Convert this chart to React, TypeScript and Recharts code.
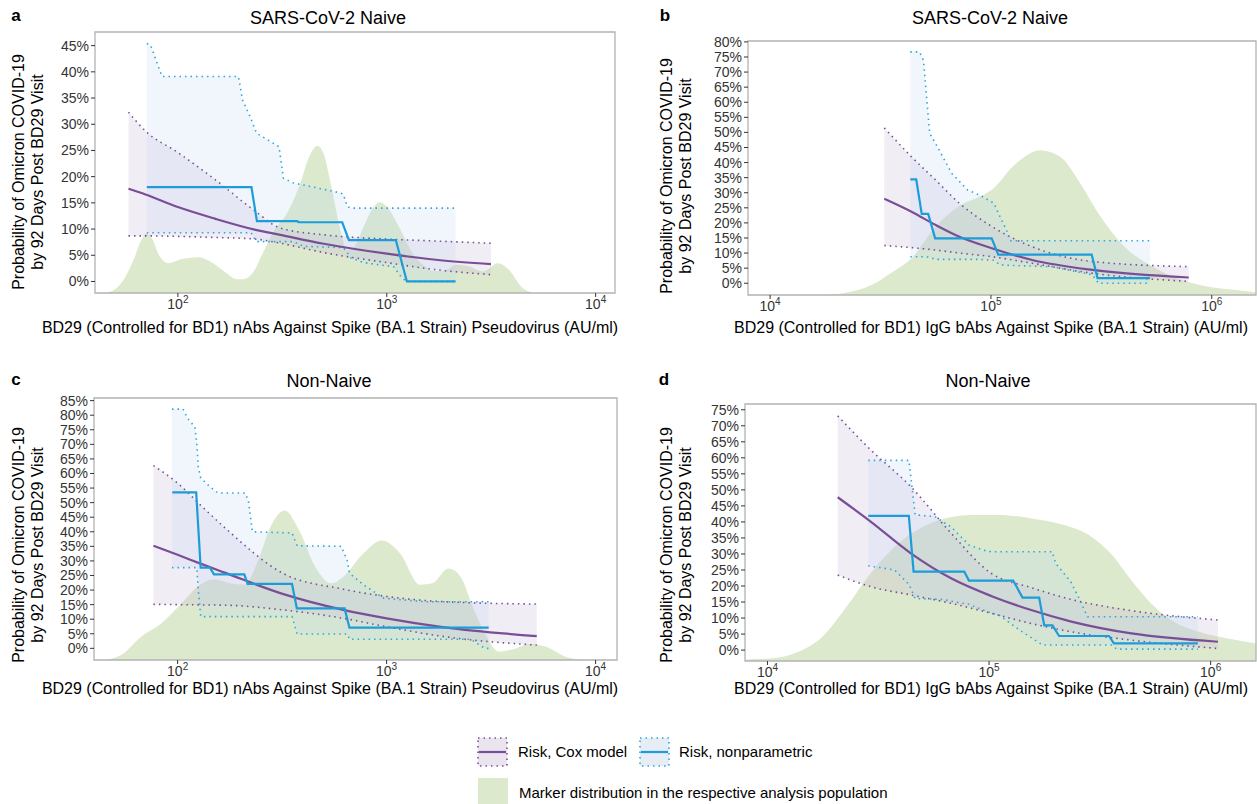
import React from "react";
import { ComposedChart, Area, Line, XAxis, YAxis, ReferenceArea } from "recharts";

// [marker value (AU/ml), height on the risk axis (%)]
type Pt = [number, number];
// [marker value, lower %, upper %]
type Band = [number, number, number];
// [marker value, estimate %, lower %, upper %]
type Cox = [number, number, number, number];

const FONT = '"Liberation Sans", Arial, Helvetica, sans-serif';
const GREEN = "#dde9cd";
const PURPLE = "#7a4e96";
const PURPLE_FILL = "#c9b8d9";
const BLUE = "#1c9cd8";
const BLUE_DOT = "#2aa7df";
const BLUE_FILL = "#b9d6f0";
const BORDER = "#b3b3b3";
const TICK = "#333333";

const xTitleNAb = "BD29 (Controlled for BD1) nAbs Against Spike (BA.1 Strain) Pseudovirus (AU/ml)";
const xTitleBAb = "BD29 (Controlled for BD1) IgG bAbs Against Spike (BA.1 Strain) (AU/ml)";
const yTitle = ["Probability of Omicron COVID-19", "by 92 Days Post BD29 Visit"];

const nAbTicks = [100, 1000, 10000];
const bAbTicks = [10000, 100000, 1000000];
const pct45 = [0, 5, 10, 15, 20, 25, 30, 35, 40, 45];
const pct80 = [0, 5, 10, 15, 20, 25, 30, 35, 40, 45, 50, 55, 60, 65, 70, 75, 80];
const pct85 = [...pct80, 85];
const pct75 = pct80.slice(0, 16);

// ---- panel a: naive, nAbs ----
const aDensity: Pt[] = [
  [45.9, -2.2], [53.6, -0.3], [61.3, 4.1], [66.9, 7.9], [70.7, 9.2], [74.9, 8.3], [81.8, 4.8],
  [89.5, 3.5], [104.5, 4.3], [124.9, 4.6], [142.8, 3.8], [170.6, 1.6], [190.8, 0.4], [204, 0.4],
  [228, 1.6], [254.8, 5.4], [291.2, 9.9], [333, 13], [380.5, 18.1], [425.3, 23.8], [464.9, 25.9],
  [497, 24.5], [543.3, 18.1], [593.8, 10.5], [649.2, 6], [694, 6.5], [775.8, 10.5], [848, 13.7],
  [927, 15.1], [1013, 14], [1158, 10], [1324, 5.5], [1513, 3], [1691, 2], [1891, 2.1], [2161, 3.2],
  [2470, 2.9], [2886, 1.9], [3403, 3.5], [3855, 2.2], [4407, -1], [5037, -2.2],
];
const aCox: Cox[] = [
  [58, 17.7, 8.7, 32.3], [70, 16.6, 8.7, 28.7], [100, 14.2, 8.6, 24.6], [150, 12.0, 8.4, 19.5],
  [233, 9.9, 8.1, 13.5], [309, 8.9, 7.3, 10.2], [500, 7.2, 5.5, 8.9], [1000, 5.3, 3.6, 8.1],
  [1760, 4.1, 2.2, 7.7], [3155, 3.3, 1.3, 7.3],
];
const aNpBand: Band[] = [
  [71, 9.3, 45.4], [74, 9.3, 45.1], [84, 9.3, 39.1], [195, 9.3, 39.1], [204, 9.3, 34.6],
  [218, 9.3, 32.1], [224, 9.3, 31], [238, 7.6, 28.3], [305, 7.6, 25.7], [320, 7.6, 19.7],
  [357, 7.6, 18.8], [400, 6.7, 18.4], [600, 6.5, 16.9], [620, 6.4, 16.6], [647, 5.5, 14.3],
  [673, 4.5, 14], [775, 3.6, 14], [1080, 2.8, 14], [1170, 0.9, 14], [1240, 0, 14], [2135, 0, 14],
];
const aNpRisk: Pt[] = [
  [71, 18], [225, 18], [239, 11.5], [372, 11.5], [380, 11.3], [612, 11.3], [659, 7.9],
  [1105, 7.9], [1248, 0], [2135, 0],
];

// ---- panel b: naive, IgG bAbs ----
const bDensity: Pt[] = [
  [17390, -3.9], [21440, -3.3], [28750, -0.6], [35440, 3.5], [43720, 8.3], [56220, 18.8],
  [75390, 26.5], [89000, 28.7], [101000, 31], [129900, 39.7], [167100, 44.1], [206000, 41.9],
  [254100, 33.1], [313300, 22.1], [402800, 12.1], [540100, 5.5], [821300, 0], [1249000, -2.2],
  [1586000, -3.0],
];
const bCox: Cox[] = [
  [32900, 28.0, 12.5, 51.5], [43700, 23.7, 11.8, 41.9], [56200, 19.3, 11.0, 34.2],
  [72000, 15.4, 10.0, 26.5], [101000, 11.6, 8.8, 18.8], [153700, 7.7, 6.6, 12.1],
  [288000, 4.4, 3.3, 7.2], [787000, 1.9, 0.6, 5.5],
];
const bNpBand: Band[] = [
  [43150, 8.8, 76.7], [47500, 8.8, 76.7], [49500, 8.8, 73.9], [52800, 8.6, 49.7],
  [56200, 7.9, 46.3], [66500, 7.9, 36.4], [78500, 7.9, 30.9], [89000, 7.9, 29.2],
  [103200, 7.6, 26.5], [110000, 6.1, 22], [117700, 6.0, 17.6], [122000, 5.9, 14.1],
  [189500, 5.5, 14.1], [288000, 2.8, 14.1], [307000, 0, 14.1], [525000, 0, 14.1],
];
const bNpRisk: Pt[] = [
  [43150, 34.4], [45900, 34.4], [48600, 23], [52000, 23], [55900, 14.9], [100800, 14.9],
  [107900, 9.5], [285900, 9.5], [304000, 1.7], [525000, 1.7],
];

// ---- panel c: non-naive, nAbs ----
const cDensity: Pt[] = [
  [44.9, -4], [53.6, -2.3], [66.9, 4], [83.7, 8.6], [104.5, 15.5], [124.9, 21.2], [149.3, 23.7],
  [178.4, 22.3], [208.5, 21.8], [243.7, 30.4], [278.6, 41.8], [325.5, 47.3], [380.5, 40.7],
  [454.6, 28.1], [543.3, 22.3], [620.9, 24.6], [775.8, 32.6], [948, 37], [1158, 32.6],
  [1447, 21.8], [1654, 22.3], [1977, 27.4], [2259, 24.6], [2582, 14.3], [2951, 5.2],
  [3449, -1.1], [4031, -0.3], [4818, 1.5], [5757, 0.6], [7194, -2.9], [8596, -4],
];
const cCox: Cox[] = [
  [76.6, 35.2, 15.1, 62.7], [100, 32.1, 15.0, 56.7], [130.6, 28.9, 14.9, 48.7],
  [170.6, 25.8, 14.8, 41], [318, 18.7, 13.2, 25.8], [621, 13.2, 10.3, 20.3],
  [1000, 10.3, 7.4, 17.8], [1892, 7.2, 4.0, 16.0], [5230, 4.2, 1.1, 15.2],
];
const cNpBand: Band[] = [
  [94, 27.7, 82.1], [106, 27.7, 82.1], [112, 27.7, 78.8], [121, 27.7, 75.9], [123.5, 27.7, 70.3],
  [125.6, 20, 62.2], [129, 10.9, 58.5], [143, 10.9, 55.4], [156, 10.9, 53.3], [210, 10.9, 53.3],
  [218, 10.9, 50.8], [228, 10.9, 40], [353, 10.9, 39.6], [373, 4.9, 35.2], [607, 4.9, 35],
  [649, 4.9, 30], [664, 3.1, 25.8], [776, 3.1, 21.8], [968, 3.1, 17.2], [1514, 3.1, 16],
  [2523, 3.1, 16], [2951, 0, 16], [3080, 0, 16],
];
const cNpRisk: Pt[] = [
  [94.3, 53.5], [122.7, 53.5], [128.9, 27.7], [142.8, 27.7], [149.3, 25.4], [208.5, 25.4],
  [216.2, 22.1], [352.6, 22.1], [372, 13.7], [629.6, 13.7], [664, 7.1], [3080, 7.1],
];

// ---- panel d: non-naive, IgG bAbs ----
const dDensity: Pt[] = [
  [7918, -2.9], [10290, -2.6], [13790, -0.5], [17710, 4.2], [22750, 13.5], [29220, 24],
  [40790, 34.4], [56930, 40.1], [82860, 42.2], [111000, 42.2], [155000, 41.1], [216300, 39.1],
  [289700, 35.4], [350000, 30.5], [442000, 21.5], [540000, 14.5], [660000, 9.5], [885000, 5.7],
  [1196000, 3.6], [1602000, 2.1],
];
const dCox: Cox[] = [
  [20750, 47.7, 23.4, 73.1], [29220, 40.1, 19.8, 62.5], [44370, 30.2, 17.2, 51],
  [67400, 22.4, 14.6, 36.5], [102100, 16.9, 11.5, 24], [154900, 12.5, 8.3, 19.5],
  [235200, 8.9, 5.7, 15.8], [439000, 5.2, 3.1, 12.3], [1079000, 2.6, 0.5, 9.4],
];
const dNpBand: Band[] = [
  [28490, 26.3, 59.2], [37500, 25, 59.2], [43500, 20.5, 59.2], [46400, 16.1, 42.2],
  [56900, 15.9, 41.7], [61900, 15.8, 40], [67300, 15.3, 38.5], [73100, 14.8, 36],
  [81200, 14.3, 32.8], [94000, 12.5, 31.2], [102100, 11.6, 30.7], [111000, 10.9, 30.7],
  [137000, 6.3, 30.7], [174000, 1.6, 30.7], [193000, 1.6, 30.7], [200000, 1.6, 27],
  [234000, 1.6, 21.3], [255000, 1.6, 16.1], [278000, 1.6, 10.4], [357000, 1.6, 10.4],
  [377000, 0.3, 10.4], [875000, 0.3, 10.4],
];
const dNpRisk: Pt[] = [
  [28500, 41.9], [43450, 41.9], [45650, 24.5], [77300, 24.5], [81100, 21.7], [128500, 21.7],
  [141600, 16.4], [168300, 16.4], [177400, 7.7], [193300, 7.7], [207000, 4.4], [347500, 4.4],
  [366000, 2.1], [875000, 2.1],
];

type PanelSpec = {
  left: number;
  top: number;
  width: number;
  height: number;
  margin: { top: number; right: number; bottom: number; left: number };
  xDomain: [number, number];
  yDomain: [number, number];
  xTicks: number[];
  yTicks: number[];
  density: Pt[];
  cox: Cox[];
  npBand: Band[];
  npRisk: Pt[];
};

function PowerTick(props: any) {
  const { x, y, payload } = props;
  const exp = Math.round(Math.log10(payload.value));
  return (
    <text x={x} y={y + 10} textAnchor="middle" fill={TICK} fontSize={14}>
      <tspan>10</tspan>
      <tspan dy={-6} fontSize={10}>{exp}</tspan>
    </text>
  );
}

function Panel({ p }: { p: PanelSpec }) {
  const dens = p.density.map(([x, y]) => ({ x, y }));
  const cox = p.cox.map(([x, est, lo, hi]) => ({ x, est, lo, hi, band: [lo, hi] }));
  const band = p.npBand.map(([x, lo, hi]) => ({ x, lo, hi, band: [lo, hi] }));
  const risk = p.npRisk.map(([x, y]) => ({ x, y }));
  return (
    <div style={{ position: "absolute", left: p.left, top: p.top }}>
      <ComposedChart width={p.width} height={p.height} margin={p.margin}>
        <XAxis
          dataKey="x"
          type="number"
          scale="log"
          domain={p.xDomain}
          allowDataOverflow
          ticks={p.xTicks}
          interval={0}
          tick={(t: any) => <PowerTick {...t} />}
          tickSize={4}
          tickLine={{ stroke: TICK }}
          axisLine={false}
          height={30}
        />
        <YAxis
          type="number"
          domain={p.yDomain}
          allowDataOverflow
          ticks={p.yTicks}
          interval={0}
          tickFormatter={(v) => `${v}%`}
          tick={{ fill: TICK, fontSize: 14 }}
          tickSize={4}
          tickMargin={2}
          tickLine={{ stroke: TICK }}
          axisLine={false}
          width={60}
        />
        <Area
          data={dens}
          dataKey="y"
          type="monotone"
          baseValue={p.yDomain[0]}
          fill={GREEN}
          fillOpacity={1}
          stroke="none"
          isAnimationActive={false}
        />
        <Area
          data={cox}
          dataKey="band"
          type="monotone"
          fill={PURPLE_FILL}
          fillOpacity={0.25}
          stroke="none"
          isAnimationActive={false}
        />
        <Area
          data={band}
          dataKey="band"
          type="linear"
          fill={BLUE_FILL}
          fillOpacity={0.22}
          stroke="none"
          isAnimationActive={false}
        />
        <Line data={cox} dataKey="hi" type="monotone" stroke={PURPLE} strokeWidth={1.6}
          strokeDasharray="1.5 4" dot={false} isAnimationActive={false} />
        <Line data={cox} dataKey="lo" type="monotone" stroke={PURPLE} strokeWidth={1.6}
          strokeDasharray="1.5 4" dot={false} isAnimationActive={false} />
        <Line data={band} dataKey="hi" type="linear" stroke={BLUE_DOT} strokeWidth={1.6}
          strokeDasharray="1.5 4" dot={false} isAnimationActive={false} />
        <Line data={band} dataKey="lo" type="linear" stroke={BLUE_DOT} strokeWidth={1.6}
          strokeDasharray="1.5 4" dot={false} isAnimationActive={false} />
        <Line data={cox} dataKey="est" type="monotone" stroke={PURPLE} strokeWidth={2.2}
          dot={false} isAnimationActive={false} />
        <Line data={risk} dataKey="y" type="linear" stroke={BLUE} strokeWidth={2.2}
          dot={false} isAnimationActive={false} />
        <ReferenceArea
          x1={p.xDomain[0]}
          x2={p.xDomain[1]}
          y1={p.yDomain[0]}
          y2={p.yDomain[1]}
          fill="none"
          stroke={BORDER}
          strokeWidth={1.3}
          ifOverflow="visible"
        />
      </ComposedChart>
    </div>
  );
}

const panels: PanelSpec[] = [
  {
    left: 0, top: 0, width: 630, height: 340,
    margin: { top: 32, right: 15, bottom: 17, left: 35 },
    xDomain: [40.1, 12380], yDomain: [-2.2, 47.6], xTicks: nAbTicks, yTicks: pct45,
    density: aDensity, cox: aCox, npBand: aNpBand, npRisk: aNpRisk,
  },
  {
    left: 630, top: 0, width: 627, height: 340,
    margin: { top: 41, right: 1, bottom: 15, left: 58 },
    xDomain: [7943, 1586000], yDomain: [-3.9, 80.3], xTicks: bAbTicks, yTicks: pct80,
    density: bDensity, cox: bCox, npBand: bNpBand, npRisk: bNpRisk,
  },
  {
    left: 0, top: 340, width: 630, height: 364,
    margin: { top: 58, right: 13, bottom: 14, left: 34 },
    xDomain: [39.8, 12660], yDomain: [-4.0, 85.9], xTicks: nAbTicks, yTicks: pct85,
    density: cDensity, cox: cCox, npBand: cNpBand, npRisk: cNpRisk,
  },
  {
    left: 630, top: 340, width: 627, height: 364,
    margin: { top: 64, right: 1, bottom: 13, left: 55 },
    xDomain: [7918, 1602000], yDomain: [-3.4, 76.8], xTicks: bAbTicks, yTicks: pct75,
    density: dDensity, cox: dCox, npBand: dNpBand, npRisk: dNpRisk,
  },
];

const labels = [
  { letter: "a", lx: 16, ly: 16, title: "SARS-CoV-2 Naive", tx: 328, ty: 18, xt: xTitleNAb, xx: 330, xy: 328, yx: 28, yy: 172 },
  { letter: "b", lx: 665, ly: 16, title: "SARS-CoV-2 Naive", tx: 990, ty: 18, xt: xTitleBAb, xx: 991, xy: 328, yx: 676, yy: 176 },
  { letter: "c", lx: 16, ly: 380, title: "Non-Naive", tx: 329, ty: 381, xt: xTitleNAb, xx: 330, xy: 689, yx: 28, yy: 545 },
  { letter: "d", lx: 664, ly: 380, title: "Non-Naive", tx: 988, ty: 381, xt: xTitleBAb, xx: 991, xy: 689, yx: 676, yy: 545 },
];

const centered = (x: number, y: number): React.CSSProperties => ({
  position: "absolute",
  left: x,
  top: y,
  transform: "translate(-50%, -50%)",
  whiteSpace: "nowrap",
});

function LegendKey({ fill, line, dot }: { fill: string; line: string; dot: string }) {
  return (
    <svg width={31} height={30} style={{ display: "block" }}>
      <rect x={1} y={1} width={29} height={28} fill={fill} stroke={dot} strokeWidth={1.6} strokeDasharray="1.5 4" />
      <line x1={2} x2={29} y1={15} y2={15} stroke={line} strokeWidth={2.2} />
    </svg>
  );
}

export default function App() {
  return (
    <div
      style={{
        position: "absolute",
        left: 0,
        top: 0,
        width: 1257,
        height: 804,
        background: "#fff",
        fontFamily: FONT,
        color: "#000",
        overflow: "hidden",
      }}
    >
      {panels.map((p, i) => (
        <Panel key={i} p={p} />
      ))}
      {labels.map((l) => (
        <React.Fragment key={l.letter}>
          <div style={{ ...centered(l.lx, l.ly), fontSize: 17, fontWeight: 700 }}>{l.letter}</div>
          <div style={{ ...centered(l.tx, l.ty), fontSize: 18 }}>{l.title}</div>
          <div style={{ ...centered(l.xx, l.xy), fontSize: 16 }}>{l.xt}</div>
          <div
            style={{
              ...centered(l.yx, l.yy),
              transform: "translate(-50%, -50%) rotate(-90deg)",
              fontSize: 16,
              lineHeight: "19px",
              textAlign: "center",
            }}
          >
            {yTitle[0]}
            <br />
            {yTitle[1]}
          </div>
        </React.Fragment>
      ))}
      {/* legend */}
      <div style={{ position: "absolute", left: 477, top: 737 }}>
        <LegendKey fill="#e9e4ee" line={PURPLE} dot={PURPLE} />
      </div>
      <div style={{ position: "absolute", left: 518, top: 743, fontSize: 15 }}>Risk, Cox model</div>
      <div style={{ position: "absolute", left: 639, top: 737 }}>
        <LegendKey fill="#e6edf4" line={BLUE} dot={BLUE_DOT} />
      </div>
      <div style={{ position: "absolute", left: 679, top: 743, fontSize: 15 }}>Risk, nonparametric</div>
      <div style={{ position: "absolute", left: 478, top: 778, width: 30, height: 26, background: GREEN }} />
      <div style={{ position: "absolute", left: 519, top: 784, fontSize: 15 }}>
        Marker distribution in the respective analysis population
      </div>
    </div>
  );
}
